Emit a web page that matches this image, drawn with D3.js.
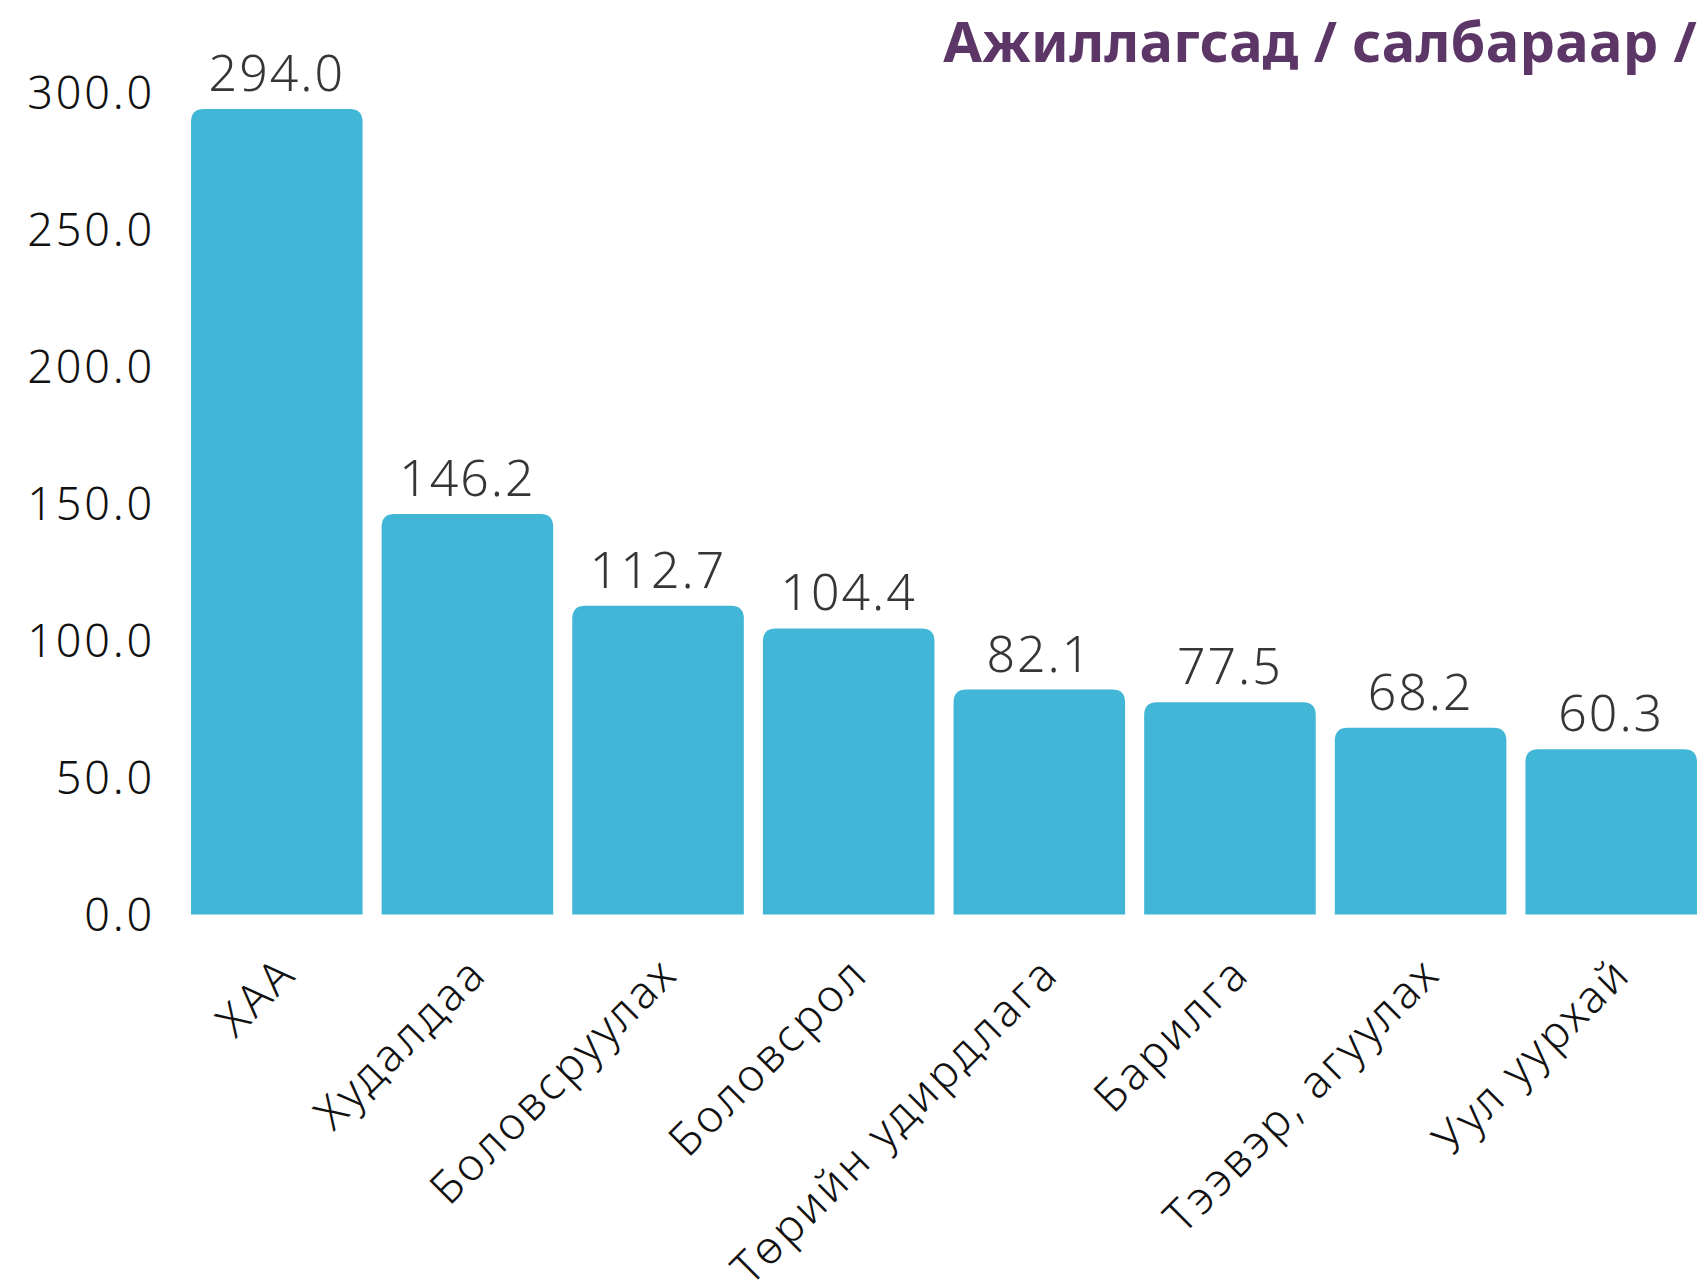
<!DOCTYPE html>
<html>
<head>
<meta charset="utf-8">
<script src="https://cdn.jsdelivr.net/npm/d3@7"></script>
<style>
  body { margin: 0; background: #fff; }
  text { font-family: "Noto Sans", "Open Sans", sans-serif; }
</style>
</head>
<body>
<div class="chart"></div>
<script>
// Data
var categories = ["ХАА", "Худалдаа", "Боловсруулах", "Боловсрол", "Төрийн удирдлага", "Барилга", "Тээвэр, агуулах", "Уул уурхай"];
var values = [294.0, 146.2, 112.7, 104.4, 82.1, 77.5, 68.2, 60.3];
var tickValues = [0, 50, 100, 150, 200, 250, 300];
var title = "Ажиллагсад / салбараар /";

var width = 1707, height = 1282;
var barColor = "#42b6d6", titleColor = "#5c3667";

var svg = d3.select(".chart")
    .append("svg")
        .attr("width", width)
        .attr("height", height);

// Scales
var x = d3.scaleBand()
    .domain(categories)
    .range([191, 1697])
    .paddingInner(0.1);

var y = d3.scaleLinear()
    .domain([0, 300])
    .range([914.5, 92.5]);

// Y axis labels only, no line
var yAxis = d3.axisLeft(y)
    .tickValues(tickValues)
    .tickFormat(d3.format(".1f"))
    .tickSize(0)
    .tickPadding(0);

var gy = svg.append("g")
    .attr("transform", "translate(155,0)")
    .call(yAxis);
gy.select(".domain").remove();
gy.selectAll("text")
    .attr("fill", "#111")
    .style("font-size", "45px")
    .style("font-weight", "300")
    .style("letter-spacing", "2.8px")
    .attr("dy", "0.36em");

// Bars with rounded top corners
var r = 13;
function barPath(d, i) {
    var x0 = x(categories[i]), w = x.bandwidth();
    var top = y(d), bottom = y(0);
    return "M" + x0 + "," + bottom +
        "V" + (top + r) +
        "Q" + x0 + "," + top + " " + (x0 + r) + "," + top +
        "H" + (x0 + w - r) +
        "Q" + (x0 + w) + "," + top + " " + (x0 + w) + "," + (top + r) +
        "V" + bottom + "Z";
}

svg.selectAll(".bar")
    .data(values)
    .enter()
    .append("path")
    .attr("class", "bar")
    .attr("d", barPath)
    .style("fill", barColor);

// Value labels above bars
svg.selectAll(".value")
    .data(values)
    .enter()
    .append("text")
    .attr("class", "value")
    .attr("x", function(d, i) { return x(categories[i]) + x.bandwidth() / 2; })
    .attr("y", function(d) { return y(d) - 18; })
    .attr("text-anchor", "middle")
    .attr("fill", "#363636")
    .style("font-size", "50px")
    .style("font-weight", "300")
    .style("letter-spacing", "2px")
    .text(function(d) { return d3.format(".1f")(d); });

// Category labels rotated -45
svg.selectAll(".cat")
    .data(categories)
    .enter()
    .append("text")
    .attr("class", "cat")
    .attr("transform", function(d) {
        return "translate(" + (x(d) + x.bandwidth() / 2 + 22) + ",976) rotate(-45)";
    })
    .attr("text-anchor", "end")
    .attr("fill", "#111")
    .style("font-size", "45px")
    .style("font-weight", "300")
    .style("letter-spacing", "3.3px")
    .text(function(d) { return d; });

// Title
svg.append("text")
    .attr("x", 1697)
    .attr("y", 62)
    .attr("text-anchor", "end")
    .attr("fill", titleColor)
    .style("font-size", "56px")
    .style("font-weight", "bold")
    .style("letter-spacing", "0.3px")
    .text(title);
</script>
</body>
</html>
